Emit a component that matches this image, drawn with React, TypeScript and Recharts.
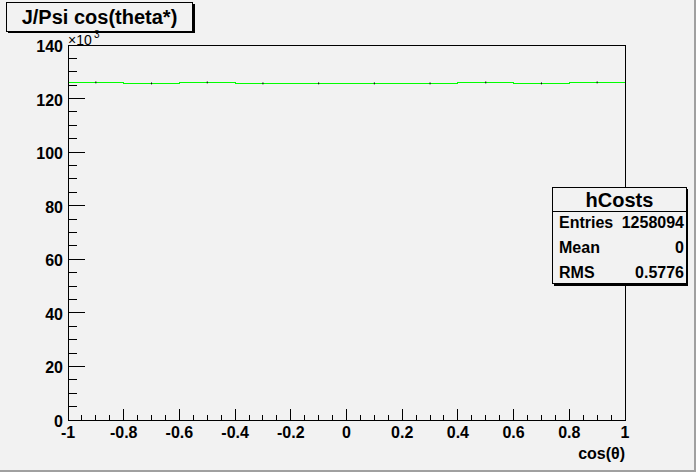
import React from "react";
import {
  ComposedChart,
  Line,
  Scatter,
  ErrorBar,
  XAxis,
  YAxis,
  ReferenceArea,
} from "recharts";

// ---- data ----
const BIN_EDGES = [-1, -0.8, -0.6, -0.4, -0.2, 0, 0.2, 0.4, 0.6, 0.8, 1];
const BIN_COUNTS = [126040, 125650, 126030, 125660, 125670, 125665, 125655, 126020, 125660, 126035];
const BIN_ERRORS = [355, 354, 355, 354, 354, 354, 354, 355, 354, 355];

const X_MAJOR = [-1, -0.8, -0.6, -0.4, -0.2, 0, 0.2, 0.4, 0.6, 0.8, 1];
const X_LABELS = ["-1", "-0.8", "-0.6", "-0.4", "-0.2", "0", "0.2", "0.4", "0.6", "0.8", "1"];
const Y_MAJOR = [0, 20000, 40000, 60000, 80000, 100000, 120000, 140000];
const Y_LABELS = ["0", "20", "40", "60", "80", "100", "120", "140"];

const STATS_TITLE = "hCosts";
const STATS_NAMES = ["Entries", "Mean", "RMS"];
const STATS_VALUES = ["1258094", "0", "0.5776"];

const TITLE = "J/Psi cos(theta*)";
const X_TITLE = "cos(θ)";

// ---- derived tables ----
const stepData = BIN_EDGES.map((x, i) => ({
  x,
  y: BIN_COUNTS[Math.min(i, BIN_COUNTS.length - 1)],
}));
const centerData = BIN_COUNTS.map((c, i) => ({
  x: (BIN_EDGES[i] + BIN_EDGES[i + 1]) / 2,
  y: c,
  err: BIN_ERRORS[i],
}));

const subdivide = (majors: number[], n: number) => {
  const out: number[] = [];
  for (let i = 0; i < majors.length - 1; i++) {
    const a = majors[i];
    const b = majors[i + 1];
    for (let k = 0; k < n; k++) out.push(Math.round((a + ((b - a) * k) / n) * 1e6) / 1e6);
  }
  out.push(majors[majors.length - 1]);
  return out;
};
const X_TICKS = subdivide(X_MAJOR, 4);
const Y_TICKS = subdivide(Y_MAJOR, 4);

const FONT = "'Liberation Sans', Arial, Helvetica, sans-serif";
const BG = "#f2f2f2";

const renderXTick = (props: any) => {
  const { x, y, payload } = props;
  const v = payload.value;
  const idx = X_MAJOR.findIndex((m) => Math.abs(m - v) < 1e-6);
  const major = idx >= 0;
  return (
    <g key={`xt-${v}`}>
      <line x1={x} x2={x} y1={y} y2={y - (major ? 11 : 5.5)} stroke="#000" shapeRendering="crispEdges" />
      {major && (
        <text x={x} y={y + 18} textAnchor="middle" fontFamily={FONT} fontWeight="bold" fontSize={16} fill="#000">
          {X_LABELS[idx]}
        </text>
      )}
    </g>
  );
};

const renderYTick = (props: any) => {
  const { x, y, payload } = props;
  const v = payload.value;
  const idx = Y_MAJOR.findIndex((m) => Math.abs(m - v) < 1e-6);
  const major = idx >= 0;
  return (
    <g key={`yt-${v}`}>
      <line x1={x} x2={x + (major ? 17 : 8.5)} y1={y} y2={y} stroke="#000" shapeRendering="crispEdges" />
      {major && (
        <text x={x - 5} y={y + 7} textAnchor="end" fontFamily={FONT} fontWeight="bold" fontSize={16} fill="#000">
          {Y_LABELS[idx]}
        </text>
      )}
    </g>
  );
};

export default function App() {
  return (
    <div style={{ position: "absolute", left: 0, top: 0, width: 696, height: 472, background: BG }}>
      <ComposedChart
        width={696}
        height={472}
        margin={{ top: 45, right: 71, bottom: 12, left: 8 }}
        style={{ position: "absolute", left: 0, top: 0 }}
      >
        <XAxis
          dataKey="x"
          type="number"
          domain={[-1, 1]}
          ticks={X_TICKS}
          interval={0}
          height={40}
          tickSize={0}
          tickMargin={0}
          tick={renderXTick}
          tickLine={false}
          axisLine={{ stroke: "#000", shapeRendering: "crispEdges" }}
          allowDataOverflow
        />
        <YAxis
          type="number"
          domain={[0, 140000]}
          ticks={Y_TICKS}
          interval={0}
          width={60}
          tickSize={0}
          tickMargin={0}
          tick={renderYTick}
          tickLine={false}
          axisLine={{ stroke: "#000", shapeRendering: "crispEdges" }}
          allowDataOverflow
        />
        <ReferenceArea
          x1={-1}
          x2={1}
          y1={0}
          y2={140000}
          fill="none"
          stroke="#000"
          strokeWidth={1}
          fillOpacity={0}
          shapeRendering="crispEdges"
        />
        <Line
          data={stepData}
          dataKey="y"
          type="stepAfter"
          stroke="#00ff00"
          strokeWidth={1}
          dot={false}
          activeDot={false}
          isAnimationActive={false}
          shapeRendering="crispEdges"
        />
        <Scatter data={centerData} dataKey="y" shape={() => <g />} isAnimationActive={false}>
          <ErrorBar dataKey="err" direction="y" width={0} stroke="#000" strokeWidth={1} isAnimationActive={false} />
        </Scatter>
      </ComposedChart>

      <svg width={696} height={472} style={{ position: "absolute", left: 0, top: 0, pointerEvents: "none" }}>
        {/* canvas bevel */}
        <rect x={694} y={0} width={2} height={472} fill="#a0a0a0" />
        <rect x={0} y={470} width={696} height={2} fill="#a0a0a0" />

        {/* title box */}
        <rect x={8} y={4} width={187} height={29} fill="#000" />
        <rect x={6.5} y={2.5} width={186} height={29} fill={BG} stroke="#000" />
        <text x={99.5} y={24} textAnchor="middle" fontFamily={FONT} fontWeight="bold" fontSize={20} fill="#000">
          {TITLE}
        </text>

        {/* exponent */}
        <text x={68} y={45} fontFamily={FONT} fontSize={14} fill="#000">
          ×10
        </text>
        <text x={94} y={38} fontFamily={FONT} fontSize={10} fill="#000">
          3
        </text>

        {/* x axis title */}
        <text x={625} y={459} textAnchor="end" fontFamily={FONT} fontWeight="bold" fontSize={16} fill="#000">
          {X_TITLE}
        </text>

        {/* stats box */}
        <rect x={554} y={189} width={134} height={97} fill="#000" />
        <rect x={552.5} y={187.5} width={134} height={96} fill={BG} stroke="#000" />
        <line x1={552.5} x2={686.5} y1={211.5} y2={211.5} stroke="#000" />
        <text x={619.5} y={207} textAnchor="middle" fontFamily={FONT} fontWeight="bold" fontSize={20} fill="#000">
          {STATS_TITLE}
        </text>
        {STATS_NAMES.map((n, i) => (
          <g key={n}>
            <text x={559} y={228 + i * 25} fontFamily={FONT} fontWeight="bold" fontSize={16} fill="#000">
              {n}
            </text>
            <text x={684} y={228 + i * 25} textAnchor="end" fontFamily={FONT} fontWeight="bold" fontSize={16} fill="#000">
              {STATS_VALUES[i]}
            </text>
          </g>
        ))}
      </svg>
    </div>
  );
}
